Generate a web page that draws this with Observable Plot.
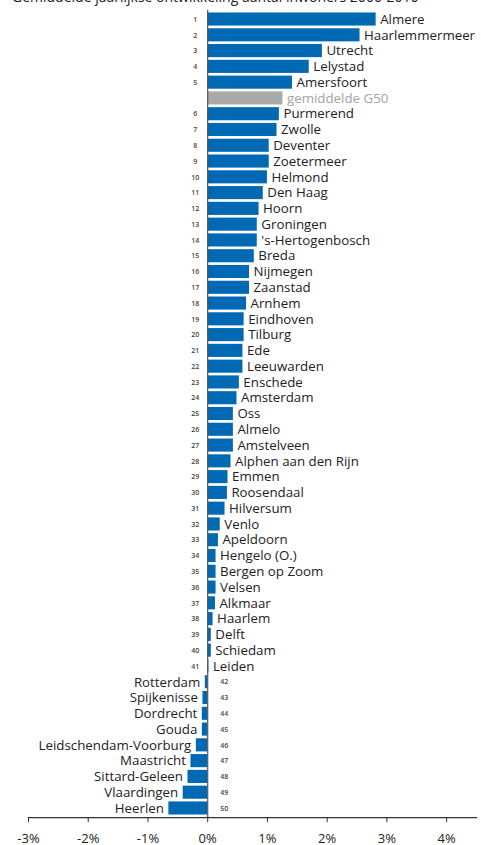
<!DOCTYPE html>
<html>
<head>
<meta charset="utf-8">
<script src="https://cdn.jsdelivr.net/npm/d3@7"></script>
<script src="https://cdn.jsdelivr.net/npm/@observablehq/plot@0.6"></script>
<style>
  html, body { margin: 0; padding: 0; background: #fff; }
  body { width: 481px; height: 845px; position: relative; overflow: hidden; font-family: "Open Sans", sans-serif; }
  #title { position: absolute; left: 12px; top: -10px; font-size: 14px; line-height: 14px; color: #222; white-space: nowrap; z-index: 2; }
  #chart { position: absolute; left: 0; top: 0; }
</style>
</head>
<body>
<div id="title">Gemiddelde jaarlijkse ontwikkeling aantal inwoners 2000-2010</div>
<div id="chart"></div>
<script>
const cities = ["Almere","Haarlemmermeer","Utrecht","Lelystad","Amersfoort","Purmerend","Zwolle","Deventer","Zoetermeer","Helmond","Den Haag","Hoorn","Groningen","'s-Hertogenbosch","Breda","Nijmegen","Zaanstad","Arnhem","Eindhoven","Tilburg","Ede","Leeuwarden","Enschede","Amsterdam","Oss","Almelo","Amstelveen","Alphen aan den Rijn","Emmen","Roosendaal","Hilversum","Venlo","Apeldoorn","Hengelo (O.)","Bergen op Zoom","Velsen","Alkmaar","Haarlem","Delft","Schiedam","Leiden","Rotterdam","Spijkenisse","Dordrecht","Gouda","Leidschendam-Voorburg","Maastricht","Sittard-Geleen","Vlaardingen","Heerlen"];
const growth = [2.82,2.55,1.92,1.70,1.42,1.20,1.16,1.03,1.03,1.00,0.93,0.86,0.83,0.83,0.78,0.70,0.70,0.65,0.61,0.61,0.59,0.59,0.53,0.49,0.43,0.43,0.43,0.39,0.34,0.33,0.29,0.21,0.18,0.14,0.14,0.14,0.13,0.09,0.06,0.06,0.02,-0.04,-0.08,-0.09,-0.09,-0.19,-0.28,-0.33,-0.41,-0.65];
const averageLabel = "gemiddelde G50";
const averageValue = 1.26;
const averageAfterRank = 5;
const xTicks = [-3,-2,-1,0,1,2,3,4];
const xDomain = [-3, 4.5];

const rows = cities.map((name, i) => ({name, value: growth[i], rank: i + 1, avg: false}));
rows.splice(averageAfterRank, 0, {name: averageLabel, value: averageValue, rank: null, avg: true});

const BLUE = "#0069b4", GREY = "#aaaaaa", TEXT = "#222";
const pos = rows.filter(d => d.value >= 0 && !d.avg);
const neg = rows.filter(d => d.value < 0);
const avg = rows.filter(d => d.avg);

const chart = Plot.plot({
  width: 481,
  height: 845,
  marginTop: 9.8,
  marginBottom: 27.8,
  marginLeft: 28,
  marginRight: 5,
  style: {fontFamily: "Open Sans, sans-serif", background: "transparent"},
  x: {domain: xDomain, axis: null, label: null},
  y: {domain: rows.map(d => d.name), padding: 0.17, axis: null},
  color: {type: "identity"},
  marks: [
    Plot.barX(rows, {x: "value", y: "name", fill: d => d.avg ? GREY : BLUE}),
    Plot.ruleX([0], {stroke: "#555", strokeWidth: 1.2}),
    Plot.frame({anchor: "bottom", stroke: "#333", strokeWidth: 1.2}),
    Plot.text(pos, {x: "value", y: "name", text: "name", textAnchor: "start", dx: 4, fontSize: 13.3, fill: TEXT}),
    Plot.text(avg, {x: "value", y: "name", text: "name", textAnchor: "start", dx: 4, fontSize: 13.3, fill: "#a3a3a3"}),
    Plot.text(neg, {x: "value", y: "name", text: "name", textAnchor: "end", dx: -5, fontSize: 13.3, fill: TEXT}),
    Plot.text(pos, {x: 0, y: "name", text: d => String(d.rank), textAnchor: "middle", dx: -12.5, fontSize: 7, fontWeight: 600, fill: "#444"}),
    Plot.text(neg, {x: 0, y: "name", text: d => String(d.rank), textAnchor: "middle", dx: 16.5, fontSize: 7, fontWeight: 600, fill: "#444"}),
    Plot.axisX({ticks: xTicks, tickFormat: d => `${d}%`, tickSize: 5, tickPadding: 11, fontSize: 13, stroke: "#333", fill: TEXT, anchor: "bottom", label: null})
  ]
});
document.getElementById("chart").appendChild(chart);
</script>
</body>
</html>
